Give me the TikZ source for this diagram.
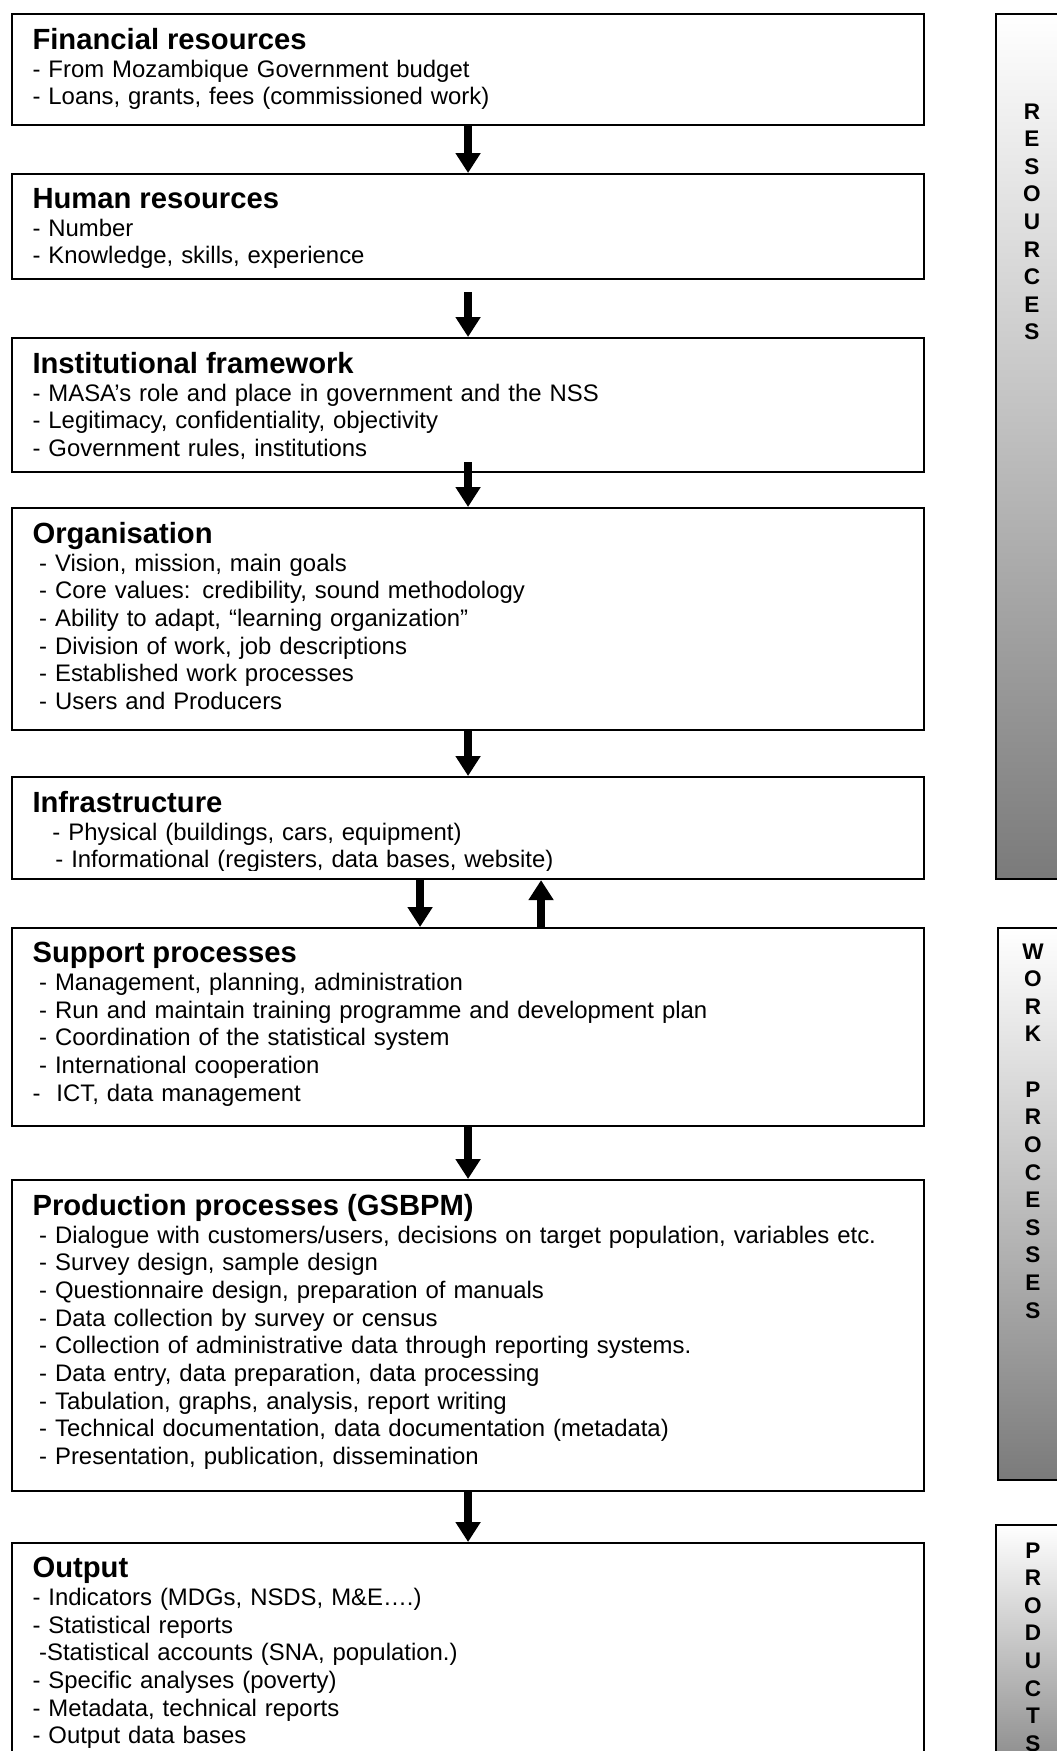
\documentclass[tikz,border=0pt]{standalone}
\usepackage{fontspec}
\setmainfont{Liberation Sans}
\usetikzlibrary{arrows.meta}

\newcommand{\pxu}{0.3766pt}
\newcommand{\boxtitle}[1]{{\fontsize{11}{13}\selectfont\bfseries #1}}

\tikzset{
  box/.style={draw, line width=0.8pt, anchor=north west, inner sep=0pt, minimum width=912*\pxu},
  boxtext/.style={anchor=north west, inner sep=0pt, align=left, text width=324pt, font=\fontsize{9}{10.4}\selectfont},
  sidebar/.style={draw, line width=0.8pt, anchor=north west, inner sep=0pt, minimum width=80*\pxu, top color=white, bottom color=black!52},
  bartext/.style={anchor=north, inner sep=0pt, align=center, font=\fontsize{8.5}{10.4}\selectfont\bfseries},
  flow/.style={-{Triangle[width=9pt, length=7.5pt]}, line width=3pt},
}

\begin{document}
\begin{tikzpicture}[x=0.3766pt, y=-0.3766pt]

\useasboundingbox (0,0) rectangle (1056,1751);

% --- Main boxes ---
\node[box, minimum height=111*\pxu] (fin) at (11,13) {};
\node[box, minimum height=105*\pxu] (hum) at (11,173) {};
\node[box, minimum height=134*\pxu] (inst) at (11,337) {};
\node[box, minimum height=222*\pxu] (org) at (11,507) {};
\node[box, minimum height=102*\pxu] (infra) at (11,776) {};
\node[box, minimum height=198*\pxu] (supp) at (11,927) {};
\node[box, minimum height=311*\pxu] (prod) at (11,1179) {};
\node[box, minimum height=258*\pxu] (out) at (11,1542) {};

% --- Box texts ---
\node[boxtext] (fin-txt) at ([shift={(21,15)}]fin.north west) {\boxtitle{Financial resources}\\- From Mozambique Government budget\\- Loans, grants, fees (commissioned work)};

\begin{scope}
  \clip (11,173) rectangle (923,267);
  \node[boxtext] (hum-txt) at ([shift={(21,15)}]hum.north west) {\boxtitle{Human resources}\\- Number\\- Knowledge, skills, experience};
\end{scope}

\begin{scope}
  \clip (11,337) rectangle (923,459);
  \node[boxtext] (inst-txt) at ([shift={(21,15)}]inst.north west) {\boxtitle{Institutional framework}\\- MASA’s role and place in government and the NSS\\- Legitimacy, confidentiality, objectivity\\- Government rules, institutions};
\end{scope}

\node[boxtext] (org-txt) at ([shift={(21,15)}]org.north west) {\boxtitle{Organisation}\\\hspace*{2.5pt}- Vision, mission, main goals\\\hspace*{2.5pt}- Core values: credibility, sound methodology\\\hspace*{2.5pt}- Ability to adapt, “learning organization”\\\hspace*{2.5pt}- Division of work, job descriptions\\\hspace*{2.5pt}- Established work processes\\\hspace*{2.5pt}- Users and Producers};

\begin{scope}
  \clip (11,776) rectangle (923,870);
  \node[boxtext] (infra-txt) at ([shift={(21,15)}]infra.north west) {\boxtitle{Infrastructure}\\\hspace*{7.5pt}- Physical (buildings, cars, equipment)\\\hspace*{8.6pt}- Informational (registers, data bases, website)};
\end{scope}

\node[boxtext] (supp-txt) at ([shift={(21,15)}]supp.north west) {\boxtitle{Support processes}\\\hspace*{2.5pt}- Management, planning, administration\\\hspace*{2.5pt}- Run and maintain training programme and development plan\\\hspace*{2.5pt}- Coordination of the statistical system\\\hspace*{2.5pt}- International cooperation\\-\ \ ICT, data management};

\node[boxtext] (prod-txt) at ([shift={(21,15)}]prod.north west) {\boxtitle{Production processes (GSBPM)}\\\hspace*{2.5pt}- Dialogue with customers/users, decisions on target population, variables etc.\\\hspace*{2.5pt}- Survey design, sample design\\\hspace*{2.5pt}- Questionnaire design, preparation of manuals\\\hspace*{2.5pt}- Data collection by survey or census\\\hspace*{2.5pt}- Collection of administrative data through reporting systems.\\\hspace*{2.5pt}- Data entry, data preparation, data processing\\\hspace*{2.5pt}- Tabulation, graphs, analysis, report writing\\\hspace*{2.5pt}- Technical documentation, data documentation (metadata)\\\hspace*{2.5pt}- Presentation, publication, dissemination};

\node[boxtext] (out-txt) at ([shift={(21,15)}]out.north west) {\boxtitle{Output}\\- Indicators (MDGs, NSDS, M\&E….)\\- Statistical reports\\\hspace*{2.5pt}-Statistical accounts (SNA, population.)\\- Specific analyses (poverty)\\- Metadata, technical reports\\- Output data bases};

% --- Arrows ---
\draw[flow] (fin) -- (hum);
\draw[flow] ([shift={(0,12)}]hum.south) -- (inst);
\draw[flow] ([shift={(0,-11)}]inst.south) -- (org.north);
\draw[flow] (org) -- (infra);
\draw[flow] ([shift={(-48,0)}]infra.south) -- ([shift={(-48,0)}]supp.north);
\draw[flow] ([shift={(73,0)}]supp.north) -- ([shift={(73,0)}]infra.south);
\draw[flow] (supp) -- (prod);
\draw[flow] (prod) -- (out);

% --- Side bars ---
\node[sidebar, minimum height=865*\pxu] (res-bar) at (995,13) {};
\node[sidebar, minimum height=552*\pxu] (work-bar) at (997,927) {};
\node[sidebar, minimum height=276*\pxu] (prods-bar) at (995,1524) {};

\node[bartext] (res-lbl) at (1032,103) {R\\E\\S\\O\\U\\R\\C\\E\\S};
\node[bartext] (work-lbl) at (1033,943) {W\\O\\R\\K\\~\\P\\R\\O\\C\\E\\S\\S\\E\\S};
\node[bartext] (prods-lbl) at (1033,1542) {P\\R\\O\\D\\U\\C\\T\\S};

\end{tikzpicture}
\end{document}
